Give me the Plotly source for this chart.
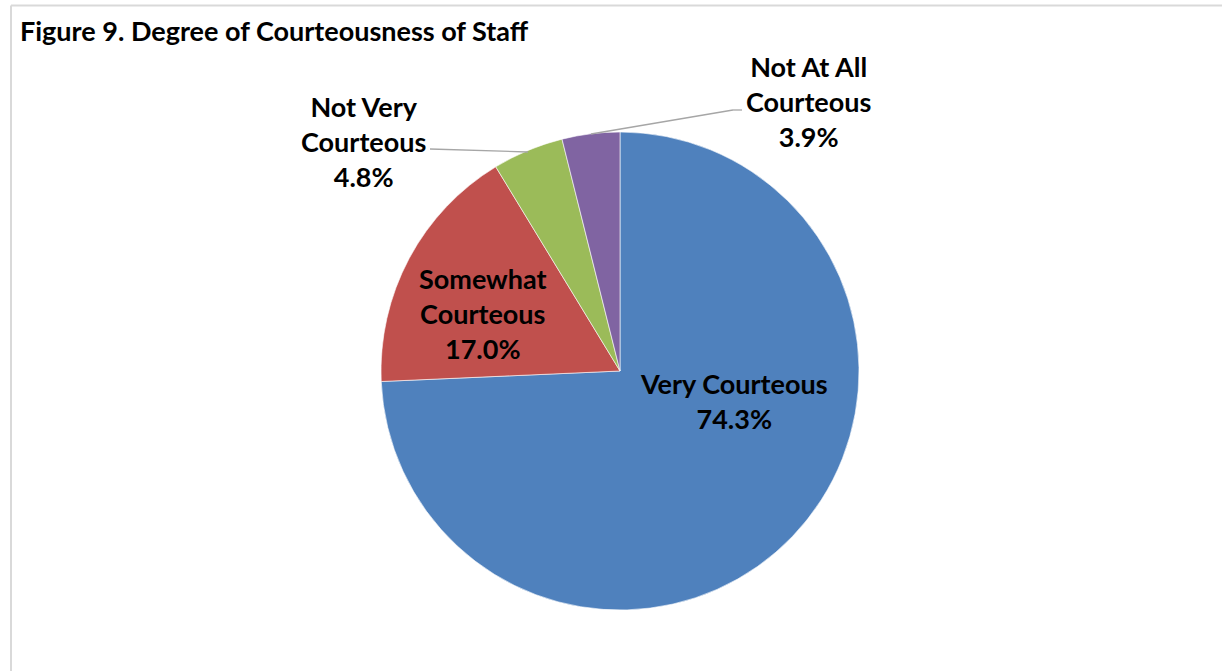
import plotly.graph_objects as go

title = "Figure 9. Degree of Courteousness of Staff"
categories = ["Very Courteous", "Somewhat Courteous", "Not Very Courteous", "Not At All Courteous"]
label_lines = [["Very Courteous"], ["Somewhat", "Courteous"], ["Not Very", "Courteous"], ["Not At All", "Courteous"]]
values = [74.3, 17.0, 4.8, 3.9]
colors = ["#4F81BD", "#C0504D", "#9BBB59", "#8064A2"]

W, H = 1222, 671
cx, cy, r = 620, 371, 239  # pie centre/radius in pixels

fig = go.Figure(go.Pie(
    labels=categories, values=values, sort=False, direction="clockwise", rotation=0,
    marker=dict(colors=colors, line=dict(color="white", width=0.6)),
    textinfo="none", hoverinfo="label+percent", showlegend=False,
    domain=dict(x=[(cx - r) / W, (cx + r) / W], y=[(H - cy - r) / H, (H - cy + r) / H]),
))

FONT = "Lato, 'Open Sans', sans-serif"
FS = 27
# label centre positions (pixels from top-left)
label_pos = [(734, 401), (483, 313), (363, 142), (808, 102)]
anns = []
for lines, v, (px, py) in zip(label_lines, values, label_pos):
    txt = "<br>".join(lines + [f"{v:.1f}%"])
    anns.append(dict(x=px / W, y=1 - py / H, xref="paper", yref="paper", text=f"<b>{txt}</b>",
                     showarrow=False, xanchor="center", yanchor="middle", align="center",
                     font=dict(family=FONT, size=FS, color="black")))
anns.append(dict(x=18 / W, y=1 - 30 / H, xref="paper", yref="paper", text=f"<b>{title}</b>",
                 showarrow=False, xanchor="left", yanchor="middle",
                 font=dict(family=FONT, size=FS, color="black")))

def px_line(x0, y0, x1, y1, color="#A6A6A6", width=1.3):
    return dict(type="line", xref="paper", yref="paper", x0=x0 / W, y0=1 - y0 / H, x1=x1 / W, y1=1 - y1 / H,
                line=dict(color=color, width=width))

shapes = [
    px_line(11, 5.5, W + 5, 5.5, "#D9D9D9", 2),
    px_line(11, 5.5, 11, H + 5, "#D9D9D9", 2),
    px_line(430, 149, 528, 152),
    px_line(591, 134, 733, 110),
    px_line(733, 110, 742, 110),
]

fig.update_layout(width=W, height=H, margin=dict(l=0, r=0, t=0, b=0),
                  paper_bgcolor="white", plot_bgcolor="white",
                  annotations=anns, shapes=shapes)
fig.write_html("out.html", config={"displayModeBar": False},
               post_script="document.body.style.margin='0';document.body.style.overflow='hidden';")
